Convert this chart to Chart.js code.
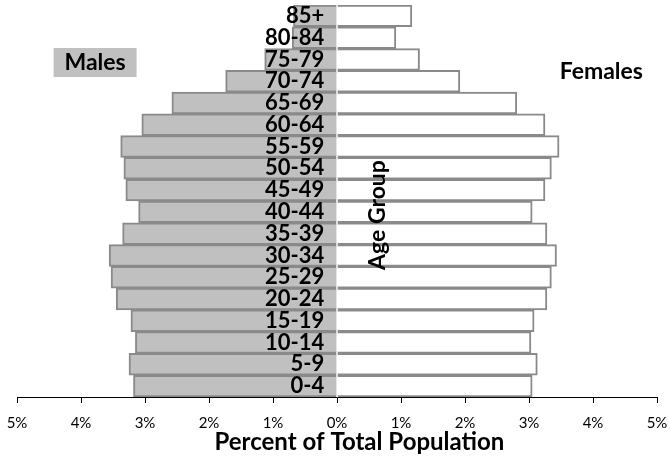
<!DOCTYPE html>
<html>
<head>
<meta charset="utf-8">
<script src="https://cdn.jsdelivr.net/npm/chart.js@4"></script>
<style>
  html, body { margin: 0; padding: 0; background: #fff; }
  #wrap { width: 670px; height: 462px; position: relative; }
</style>
</head>
<body>
<div id="wrap"><canvas id="grafico"></canvas></div>
<script>
// age groups, bottom to top
const grupos = ['0-4', '5-9', '10-14', '15-19', '20-24', '25-29', '30-34', '35-39', '40-44',
    '45-49', '50-54', '55-59', '60-64', '65-69', '70-74', '75-79', '80-84', '85+'];

// percent of total population (males drawn to the left)
const homens = [3.18, 3.25, 3.15, 3.22, 3.45, 3.53, 3.56, 3.35, 3.10,
    3.30, 3.33, 3.38, 3.05, 2.58, 1.74, 1.13, 0.70, 0.68];
const mulheres = [3.05, 3.13, 3.03, 3.08, 3.28, 3.35, 3.43, 3.28, 3.05,
    3.25, 3.35, 3.47, 3.25, 2.81, 1.92, 1.29, 0.92, 1.17];

const ticksX = [-5, -4, -3, -2, -1, 0, 1, 2, 3, 4, 5];

const fonte = 'Lato';

// texts that sit on the plot: Males box, Females, rotated Age Group, x title
const rotulos = {
    id: 'rotulos',
    afterDraw(chart) {
        const ctx = chart.ctx;
        const x = chart.scales.x;
        ctx.save();
        ctx.textBaseline = 'middle';
        ctx.textAlign = 'center';
        ctx.fillStyle = '#000';

        // axis title
        ctx.font = 'bold 24px ' + fonte;
        ctx.fillText('Percent of Total Population', x.getPixelForValue(0.35), 442);

        // Males
        ctx.font = 'bold 23px ' + fonte;
        let cx = x.getPixelForValue(-3.78);
        ctx.fillStyle = '#c0c0c0';
        ctx.fillRect(cx - 41.5, 48, 83, 29);
        ctx.fillStyle = '#000';
        ctx.fillText('Males', cx, 63);

        // Females
        ctx.fillText('Females', x.getPixelForValue(4.13), 72);

        // Age Group
        ctx.translate(x.getPixelForValue(0.63), 215);
        ctx.rotate(-Math.PI / 2);
        ctx.fillText('Age Group', 0, 0);
        ctx.restore();
    }
};

new Chart(document.getElementById('grafico').getContext('2d'), {
    type: 'bar',
    data: {
        labels: grupos,
        datasets: [{
            label: 'Males',
            data: homens.map(v => -v),
            backgroundColor: '#c0c0c0',
            borderColor: '#8a8a8a',
            borderWidth: 2,
            barPercentage: 1,
            categoryPercentage: 1
        }, {
            label: 'Females',
            data: mulheres,
            backgroundColor: '#ffffff',
            borderColor: '#8a8a8a',
            borderWidth: 2,
            barPercentage: 1,
            categoryPercentage: 1
        }]
    },
    options: {
        indexAxis: 'y',
        responsive: true,
        maintainAspectRatio: false,
        animation: false,
        layout: { padding: { left: 17, right: 13, top: 5, bottom: 19 } },
        plugins: {
            legend: { display: false },
            tooltip: { enabled: false }
        },
        scales: {
            x: {
                stacked: true,
                min: -5,
                max: 5,
                afterBuildTicks: (s) => { s.ticks = ticksX.map(v => ({ value: v })); },
                afterFit: (s) => { s.paddingLeft = 0; s.paddingRight = 0; },
                ticks: {
                    callback: (v) => Math.abs(v) + '%',
                    color: '#000',
                    font: { family: fonte, size: 15 },
                    padding: 11,
                    maxRotation: 0
                },
                grid: {
                    drawOnChartArea: false,
                    drawTicks: true,
                    tickLength: 6,
                    color: '#000'
                },
                border: { color: '#000', width: 1 }
            },
            y: {
                stacked: true,
                reverse: true,
                position: { x: -0.2 },
                grid: { display: false },
                border: { display: false },
                ticks: {
                    z: 1,
                    color: '#000',
                    font: { family: fonte, size: 22, weight: 'bold', lineHeight: 0.4 },
                    padding: 0,
                    autoSkip: false
                }
            }
        }
    },
    plugins: [rotulos]
});
</script>
</body>
</html>
